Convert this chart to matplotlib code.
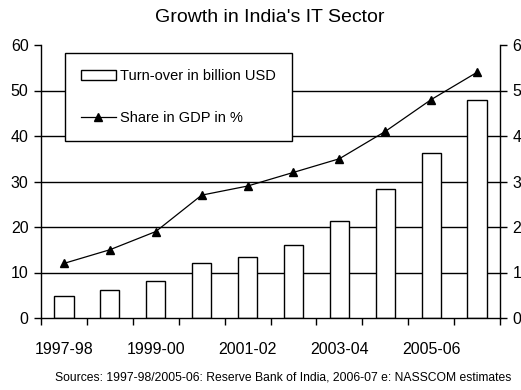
import numpy as np
import matplotlib
matplotlib.use("Agg")
import matplotlib.pyplot as plt

FONT = ['Liberation Sans', 'DejaVu Sans']
plt.rcParams['font.family'] = FONT

# data
years = ["1997-98", "1998-99", "1999-00", "2000-01", "2001-02",
         "2002-03", "2003-04", "2004-05", "2005-06", "2006-07"]
turnover = [4.8, 6.1, 8.1, 12.1, 13.3, 16.0, 21.3, 28.3, 36.2, 48.0]
gdp_share = [1.2, 1.5, 1.9, 2.7, 2.9, 3.2, 3.5, 4.1, 4.8, 5.4]

x = np.arange(len(years))

fig = plt.figure(figsize=(5.21, 3.9), dpi=100)
ax1 = fig.add_axes([41/521, 1-318/390, 459/521, 273/390])

# gridlines (no top one)
for g in [10, 20, 30, 40, 50]:
    ax1.axhline(g, color='black', lw=1.0, zorder=1)

ax1.bar(x, turnover, width=0.42, color='white', edgecolor='black',
        lw=1.0, zorder=2, label="Turn-over in billion USD")
ax1.set_xlim(-0.5, len(years) - 0.5)
ax1.set_ylim(0, 60)
ax1.set_yticks(range(0, 61, 10))
ax1.set_xticks(np.arange(-0.5, len(years), 1))
ax1.set_xticklabels([])
ax1.set_xticks(x[::2], minor=True)
ax1.set_xticklabels(years[::2], minor=True)
ax1.tick_params(axis='x', which='minor', length=0, pad=17, labelsize=11.5)
ax1.tick_params(axis='x', which='major', length=5, width=1, direction='out')
ax1.tick_params(axis='y', length=5, width=1, labelsize=11.5, pad=4)
for s in ['top', 'right']:
    ax1.spines[s].set_visible(False)
ax1.spines['left'].set_linewidth(1.0)
ax1.spines['bottom'].set_linewidth(1.0)

ax2 = ax1.twinx()
ax2.plot(x, gdp_share, color='black', lw=0.9, marker='^',
         markersize=6, markerfacecolor='black', label="Share in GDP in %",
         zorder=3)
ax2.set_ylim(0, 6)
ax2.set_yticks(range(0, 7))
ax2.tick_params(axis='y', length=5, width=1, labelsize=11.5, pad=4)
for s in ['top', 'left', 'bottom']:
    ax2.spines[s].set_visible(False)
ax2.spines['right'].set_linewidth(1.0)

h1, l1 = ax1.get_legend_handles_labels()
h2, l2 = ax2.get_legend_handles_labels()
leg = ax2.legend(h1 + h2, l1 + l2, loc='upper left',
                 bbox_to_anchor=(0.052, 0.97), fancybox=False,
                 framealpha=1, edgecolor='black', fontsize=10.5,
                 labelspacing=1.9, borderpad=1.1, handlelength=2.4,
                 handletextpad=0.3, borderaxespad=0)
leg.get_frame().set_linewidth(1.0)
leg.set_zorder(10)

fig.text(0.517, 1-18/390, "Growth in India's IT Sector", ha='center',
         va='center', fontsize=14)
fig.text(0.544, 1-377/390,
         "Sources: 1997-98/2005-06: Reserve Bank of India, 2006-07 e: NASSCOM estimates",
         ha='center', va='center', fontsize=8.7)

fig.savefig("out.png", dpi=100)
